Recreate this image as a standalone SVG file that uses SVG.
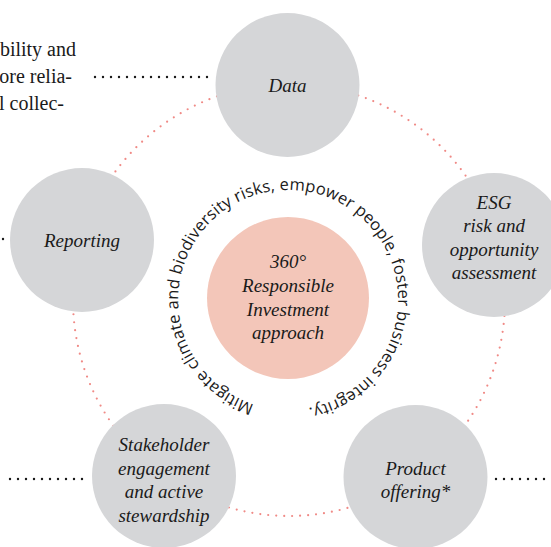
<svg xmlns="http://www.w3.org/2000/svg" width="551" height="547" viewBox="0 0 551 547">
<style>
.node{fill:#d5d6d8}
.lbl{font-family:"Liberation Serif",serif;font-style:italic;font-size:19px;fill:#1a1a1a;text-anchor:middle}
.body{font-family:"Liberation Serif",serif;font-size:20px;fill:#1a1a1a;text-anchor:end}
.ring{fill:none;stroke:#f08a86;stroke-width:2.2;stroke-linecap:round;stroke-dasharray:0 8}
.blk{fill:none;stroke:#1a1a1a;stroke-width:2.4;stroke-linecap:round;stroke-dasharray:0 8}
.arc{font-family:"Open Sans","Noto Sans",sans-serif;font-size:16.5px;fill:#1a1a1a}
</style>
<defs>
<path id="arcPath" d="M254.3,404.6 A110,110 0 1 1 305.2,408.6"/>
</defs>
<rect width="551" height="547" fill="#ffffff"/>
<g id="intro-text">
<text class="body" x="76" y="56">bility and</text>
<text class="body" x="72" y="83">ore relia-</text>
<text class="body" x="64" y="110">l collec-</text>
</g>
<g id="connectors">
<circle class="ring" cx="289" cy="300" r="216"/>
<line class="blk" x1="95" y1="77" x2="209" y2="77"/>
<line class="blk" x1="3" y1="239" x2="3.1" y2="239"/>
<line class="blk" x1="10" y1="479" x2="88" y2="479"/>
<line class="blk" x1="496" y1="479" x2="552" y2="479"/>
</g>
<g id="node-data">
<circle class="node" cx="287.5" cy="85" r="72"/>
<text class="lbl" x="287.5" y="92">Data</text>
</g>
<g id="node-esg">
<circle class="node" cx="494" cy="245" r="72"/>
<text class="lbl" x="494" y="209">ESG</text>
<text class="lbl" x="494" y="232">risk and</text>
<text class="lbl" x="494" y="256">opportunity</text>
<text class="lbl" x="494" y="279">assessment</text>
</g>
<g id="node-product">
<circle class="node" cx="415.5" cy="477" r="72"/>
<text class="lbl" x="415.5" y="475">Product</text>
<text class="lbl" x="415.5" y="498">offering*</text>
</g>
<g id="node-stakeholder">
<circle class="node" cx="164" cy="476" r="72"/>
<text class="lbl" x="164" y="451">Stakeholder</text>
<text class="lbl" x="164" y="475">engagement</text>
<text class="lbl" x="164" y="498">and active</text>
<text class="lbl" x="164" y="522">stewardship</text>
</g>
<g id="node-reporting">
<circle class="node" cx="82" cy="240" r="72"/>
<text class="lbl" x="82" y="247">Reporting</text>
</g>
<g id="node-center">
<circle cx="288" cy="298" r="81" fill="#f3c6b9"/>
<text class="lbl" x="288" y="268">360°</text>
<text class="lbl" x="288" y="292">Responsible</text>
<text class="lbl" x="288" y="316">Investment</text>
<text class="lbl" x="288" y="339">approach</text>
</g>
<g id="arc-text">
<text class="arc"><textPath href="#arcPath" textLength="636" lengthAdjust="spacing">Mitigate climate and biodiversity risks, empower people, foster business integrity.</textPath></text>
</g>
</svg>
